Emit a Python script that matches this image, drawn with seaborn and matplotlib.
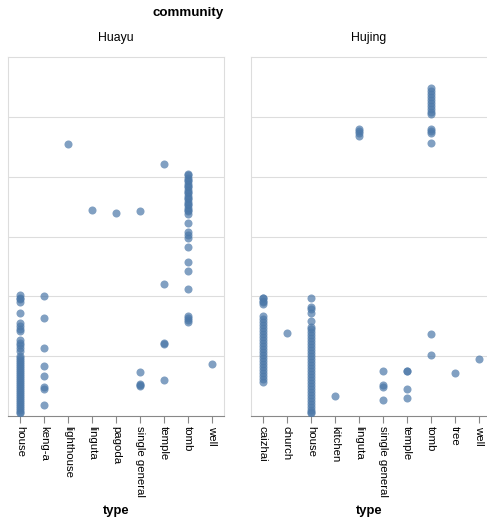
import matplotlib
matplotlib.use("Agg")
import numpy as np
import pandas as pd
import matplotlib.pyplot as plt
import seaborn as sns

# values (y scale 0..6, no labels shown)
huayu_types = ["house", "keng-a", "lighthouse", "linguta", "pagoda",
               "single general", "temple", "tomb", "well"]
hujing_types = ["caizhai", "church", "house", "kitchen", "linguta",
                "single general", "temple", "tomb", "tree", "well"]

huayu_house = [2.02, 1.98, 1.95, 1.90, 1.72, 1.55, 1.50, 1.45, 1.42, 1.27, 1.22,
               1.18, 1.13, 1.08, 1.00, 0.97, 0.93, 0.90, 0.87, 0.83, 0.80, 0.77,
               0.73, 0.70, 0.67, 0.63, 0.60, 0.57, 0.53, 0.50, 0.47, 0.43, 0.40,
               0.37, 0.33, 0.30, 0.27, 0.23, 0.20, 0.17, 0.13, 0.10, 0.07, 0.05]
huayu_kenga = [2.00, 1.63, 1.13, 0.83, 0.67, 0.48, 0.45, 0.18]
huayu_lighthouse = [4.55]
huayu_linguta = [3.45]
huayu_pagoda = [3.40]
huayu_single_general = [3.42, 0.73, 0.53, 0.52, 0.50]
huayu_temple = [4.22, 2.20, 1.22, 1.21, 0.60]
huayu_tomb = [4.05, 4.02, 3.98, 3.95, 3.92, 3.88, 3.85, 3.82, 3.78, 3.75, 3.72,
              3.68, 3.65, 3.62, 3.58, 3.55, 3.52, 3.48, 3.45, 3.42, 3.38, 3.22,
              3.07, 3.02, 2.98, 2.83, 2.57, 2.42, 2.12, 1.67, 1.63, 1.60, 1.57]
huayu_well = [0.87]

hujing_caizhai = [1.98, 1.97, 1.93, 1.90, 1.88, 1.67, 1.62, 1.57, 1.52, 1.47,
                  1.42, 1.37, 1.32, 1.27, 1.22, 1.17, 1.12, 1.07, 1.02, 0.97,
                  0.92, 0.87, 0.82, 0.77, 0.72, 0.67, 0.62, 0.57]
hujing_church = [1.38]
hujing_house = [1.98, 1.83, 1.78, 1.72, 1.58, 1.48, 1.45, 1.40, 1.35, 1.30, 1.25,
                1.20, 1.15, 1.10, 1.05, 1.00, 0.95, 0.90, 0.85, 0.80, 0.75, 0.70,
                0.65, 0.60, 0.55, 0.50, 0.45, 0.40, 0.35, 0.30, 0.25, 0.20, 0.15,
                0.10, 0.07, 0.05]
hujing_kitchen = [0.33]
hujing_linguta = [4.80, 4.77, 4.73, 4.68]
hujing_single_general = [0.75, 0.52, 0.48, 0.27]
hujing_temple = [0.75, 0.76, 0.45, 0.30]
hujing_tomb = [5.48, 5.43, 5.38, 5.33, 5.28, 5.23, 5.18, 5.13, 5.08, 5.05,
               4.80, 4.77, 4.73, 4.57, 1.37, 1.02]
hujing_tree = [0.72]
hujing_well = [0.95]

huayu_values = [huayu_house, huayu_kenga, huayu_lighthouse, huayu_linguta,
                huayu_pagoda, huayu_single_general, huayu_temple, huayu_tomb,
                huayu_well]
hujing_values = [hujing_caizhai, hujing_church, hujing_house, hujing_kitchen,
                 hujing_linguta, hujing_single_general, hujing_temple,
                 hujing_tomb, hujing_tree, hujing_well]

rows = []
for comm, types, vals in [("Huayu", huayu_types, huayu_values),
                          ("Hujing", hujing_types, hujing_values)]:
    for t, vs in zip(types, vals):
        for v in vs:
            rows.append({"community": comm, "type": t, "value": v})
df = pd.DataFrame(rows)

plt.rcParams["font.family"] = ["Liberation Sans", "DejaVu Sans"]

W, H = 487, 519
fig = plt.figure(figsize=(W / 100, H / 100), dpi=100)
ax1 = fig.add_axes([8 / W, 103 / H, 216 / W, 359 / H])
ax2 = fig.add_axes([251 / W, 103 / H, 240 / W, 359 / H])

for ax, comm, order, xc in [(ax1, "Huayu", huayu_types, 116),
                            (ax2, "Hujing", hujing_types, 369)]:
    sub = df[df["community"] == comm]
    sns.stripplot(data=sub, x="type", y="value", order=order, jitter=False,
                  color="#4c78a8", alpha=0.7, size=5.8, linewidth=0, ax=ax)
    ax.set_xlim(-0.5, len(order) - 0.5)
    ax.set_ylim(0, 6)
    ax.set_yticks(range(1, 6))
    ax.yaxis.grid(True, color="#dddddd", lw=0.8)
    ax.xaxis.grid(False)
    ax.set_axisbelow(True)
    ax.tick_params(axis="y", length=0, labelleft=False)
    for s in ax.spines.values():
        s.set_color("#dddddd")
        s.set_linewidth(0.8)
    ax.spines["bottom"].set_color("#888888")
    ax.tick_params(axis="x", length=5, color="#888888", width=0.8,
                   labelsize=8.2, pad=2)
    ax.set_xticks(range(len(order)))
    ax.set_xticklabels(order, rotation=-90, ha="center", va="top")
    ax.set_xlabel("")
    ax.set_ylabel("")
    fig.text(xc / W, 1 - 38 / H, comm, ha="center", va="center", fontsize=8.8)
    fig.text(xc / W, 1 - 511 / H, "type", ha="center", va="center",
             fontsize=9.4, fontweight="bold")

fig.text(188 / W, 1 - 13 / H, "community", ha="center", va="center",
         fontsize=9.6, fontweight="bold")

fig.savefig("out.png", dpi=100)
